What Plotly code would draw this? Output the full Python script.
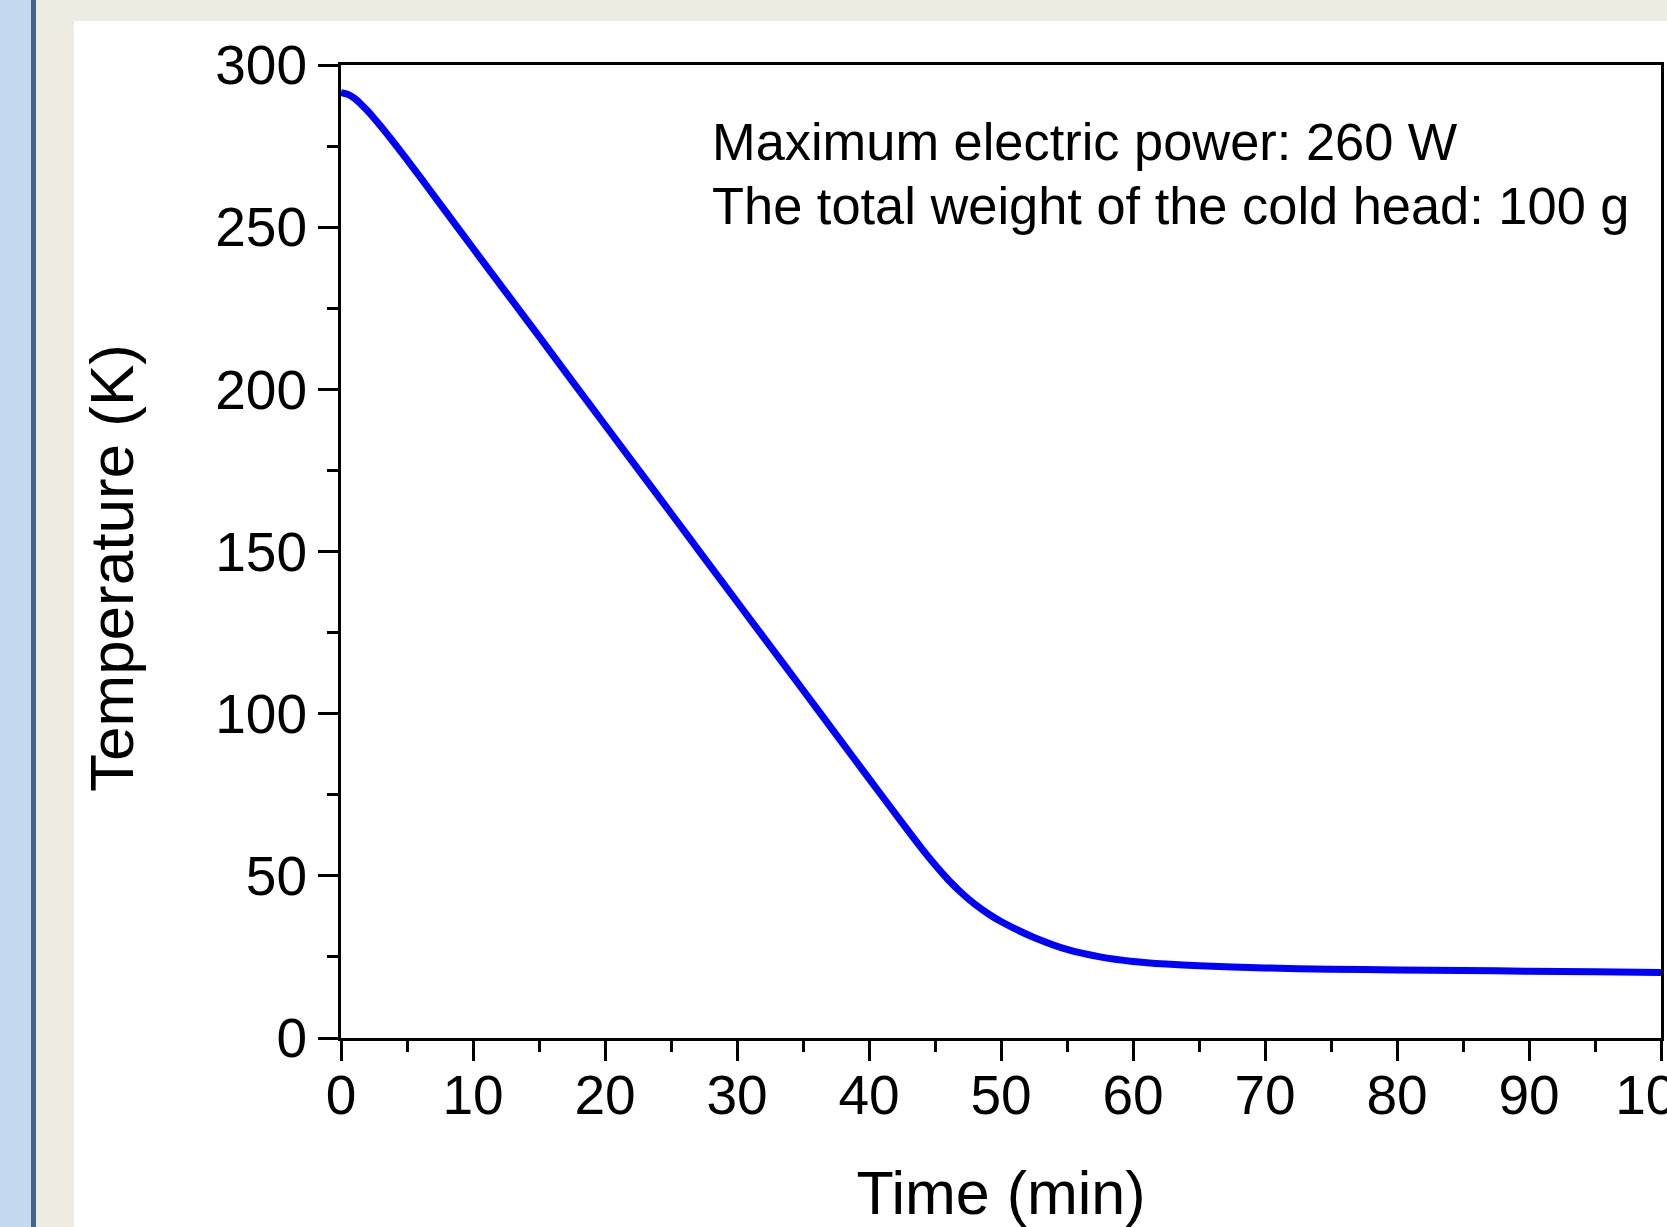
import plotly.graph_objects as go

# ---- data ----
time_min = [0, 0.5, 1, 1.5, 2, 2.5, 3, 4, 5, 6, 7.5, 10, 12.5, 15, 17.5, 20,
            22.5, 25, 27.5, 30, 32.5, 35, 37.5, 40, 42.5, 44, 45, 46, 47, 48,
            49, 50, 51, 52.5, 55, 57.5, 60, 62.5, 65, 70, 75, 80, 85, 90, 95, 100]
temperature_k = [291.5, 291.0, 289.8, 288.0, 285.9, 283.6, 281.2, 276.1, 270.8,
                 265.4, 257.2, 243.5, 229.9, 216.3, 202.6, 189.0, 175.4, 161.8,
                 148.1, 134.5, 120.9, 107.3, 93.6, 80.0, 66.4, 58.4, 53.4, 48.8,
                 44.8, 41.3, 38.4, 35.9, 33.8, 31.0, 27.3, 25.0, 23.6, 22.8,
                 22.3, 21.6, 21.2, 21.0, 20.8, 20.6, 20.4, 20.2]

x_ticks = [0, 10, 20, 30, 40, 50, 60, 70, 80, 90, 100]
y_ticks = [0, 50, 100, 150, 200, 250, 300]
x_title = "Time (min)"
y_title = "Temperature (K)"
note_lines = ["Maximum electric power: 260 W",
              "The total weight of the cold head: 100 g"]

W, H = 1667, 1227
L, R, T, B = 341, 6, 65, 189
pw, ph = W - L - R, H - T - B
FONT = "Liberation Sans, Arial, sans-serif"


def px_x(p):
    return (p - L) / pw


def px_y(p):
    return 1 - (p - T) / ph


fig = go.Figure()
fig.add_trace(go.Scatter(
    x=time_min, y=temperature_k, mode="lines",
    line=dict(color="#0000FF", width=7, shape="spline", smoothing=0.6),
    showlegend=False, hoverinfo="x+y"))

axis_common = dict(
    showgrid=False, zeroline=False, showline=True, linecolor="black",
    linewidth=3, mirror=True, ticks="outside", ticklen=20, tickwidth=3,
    tickcolor="black", tickfont=dict(family=FONT, size=55, color="black"),
    automargin=False, ticklabeloverflow="allow",
)

fig.update_xaxes(
    range=[0, 100], tickvals=x_ticks, ticktext=[str(v) for v in x_ticks],
    minor=dict(ticks="outside", ticklen=11, tickwidth=3, tickcolor="black", dtick=5),
    title=dict(text=x_title, font=dict(family=FONT, size=61, color="black"),
               standoff=52),
    ticklabelstandoff=-13,
    **axis_common)
fig.update_yaxes(
    range=[0, 300], tickvals=y_ticks, ticktext=[str(v) for v in y_ticks],
    minor=dict(ticks="outside", ticklen=11, tickwidth=3, tickcolor="black", dtick=25),
    ticklabelstandoff=0,
    **axis_common)

# background frame (window decoration of the screenshot)
shapes = [
    dict(type="rect", xref="paper", yref="paper", layer="below",
         x0=px_x(0), x1=px_x(31), y0=px_y(H), y1=px_y(0),
         fillcolor="#C5D9F0", line=dict(width=0)),
    dict(type="rect", xref="paper", yref="paper", layer="below",
         x0=px_x(31), x1=px_x(36), y0=px_y(H), y1=px_y(0),
         fillcolor="#44638F", line=dict(width=0)),
    dict(type="rect", xref="paper", yref="paper", layer="below",
         x0=px_x(36), x1=px_x(74), y0=px_y(H), y1=px_y(0),
         fillcolor="#EEEBE0", line=dict(width=0)),
    dict(type="rect", xref="paper", yref="paper", layer="below",
         x0=px_x(36), x1=px_x(W), y0=px_y(21), y1=px_y(0),
         fillcolor="#EEEBE0", line=dict(width=0)),
]

annotations = [dict(
    text=y_title, xref="paper", yref="paper", x=px_x(111), y=px_y(568),
    xanchor="center", yanchor="middle", textangle=-90, showarrow=False,
    font=dict(family=FONT, size=62, color="black"))]
for i, line in enumerate(note_lines):
    annotations.append(dict(
        text=line, xref="paper", yref="paper", x=px_x(710), y=px_y(142 + 64 * i),
        xanchor="left", yanchor="middle", showarrow=False,
        font=dict(family=FONT, size=52.4, color="black")))

fig.update_layout(
    width=W, height=H, margin=dict(l=L, r=R, t=T, b=B, pad=0, autoexpand=False),
    paper_bgcolor="white", plot_bgcolor="white",
    shapes=shapes, annotations=annotations, showlegend=False)

fig.write_html("out.html")
